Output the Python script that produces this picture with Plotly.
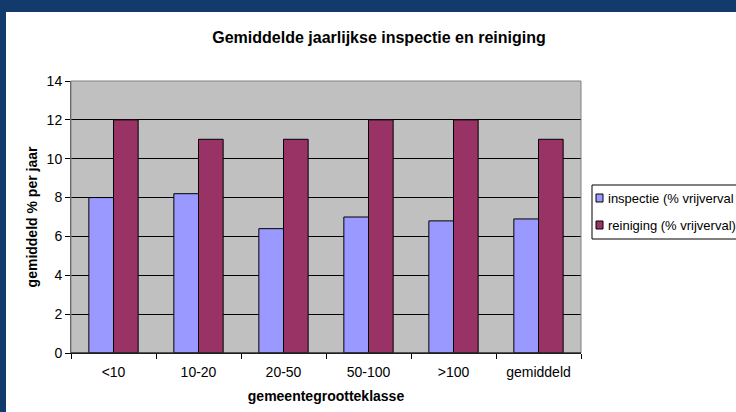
import plotly.graph_objects as go

categories = ['<10', '10-20', '20-50', '50-100', '>100', 'gemiddeld']
inspectie = [8.0, 8.2, 6.4, 7.0, 6.8, 6.9]
reiniging = [12, 11, 11, 12, 12, 11]
series_names = ['inspectie (% vrijverval', 'reiniging (% vrijverval)']
series_colors = ['#9999FF', '#993366']

font = "Arial, Liberation Sans, sans-serif"
border_blue = '#123A6C'

fig = go.Figure()
for name, vals, col in zip(series_names, [inspectie, reiniging], series_colors):
    fig.add_trace(go.Bar(x=categories, y=vals, name=name, showlegend=False,
                         marker=dict(color=col, line=dict(color='#000000', width=1))))

# plot area in pixels: x 71..581, y 81..353
def px(x):
    return (x - 71) / 510

def py(y):
    return (353 - y) / 272

shapes = [
    # dark blue frame (top and left)
    dict(type='rect', xref='paper', yref='paper', x0=px(-5), x1=px(760),
         y0=py(12), y1=py(-5), fillcolor=border_blue, line=dict(width=0),
         layer='below'),
    dict(type='rect', xref='paper', yref='paper', x0=px(-5), x1=px(6),
         y0=py(420), y1=py(-5), fillcolor=border_blue, line=dict(width=0),
         layer='below'),
    dict(type='rect', xref='paper', yref='paper', x0=0, x1=1, y0=0, y1=1,
         line=dict(color='#808080', width=1), layer='above'),
    dict(type='line', xref='paper', yref='paper', x0=0, x1=1, y0=0, y1=0,
         line=dict(color='#000000', width=1), layer='above'),
    # legend box
    dict(type='rect', xref='paper', yref='paper', x0=px(592), x1=px(760),
         y0=py(239), y1=py(185), fillcolor='#FFFFFF',
         line=dict(color='#000000', width=1), layer='above'),
]
annotations = []
for i, (name, col) in enumerate(zip(series_names, series_colors)):
    yc = 198 + i * 27
    shapes.append(dict(type='rect', xref='paper', yref='paper',
                       x0=px(596), x1=px(603), y0=py(yc + 4), y1=py(yc - 4),
                       fillcolor=col, line=dict(color='#000000', width=1),
                       layer='above'))
    annotations.append(dict(text=name, xref='paper', yref='paper',
                            x=px(606), y=py(yc), xanchor='left', yanchor='middle',
                            showarrow=False, font=dict(size=13, family=font)))

fig.update_layout(
    width=736, height=412,
    margin=dict(l=71, r=155, t=81, b=59, autoexpand=False),
    paper_bgcolor='#FFFFFF',
    plot_bgcolor='#C0C0C0',
    font=dict(family=font, size=14, color='#000000'),
    barmode='group', bargap=0.42, bargroupgap=0,
    title=dict(text='<b>Gemiddelde jaarlijkse inspectie en reiniging</b>',
               x=379 / 736, xanchor='center', y=1 - 37 / 412, yanchor='middle',
               font=dict(size=16, family=font, color='#000000')),
    xaxis=dict(title=dict(text='<b>gemeentegrootteklasse</b>', standoff=12,
                          font=dict(size=14)),
               showline=True, linecolor='#000000', linewidth=1,
               ticks='outside', tickson='boundaries', ticklen=5, tickcolor='#000000',
               ticklabelstandoff=6, showgrid=False),
    yaxis=dict(title=dict(text='<b>gemiddeld % per jaar</b>', standoff=5,
                          font=dict(size=14)),
               range=[0, 14], dtick=2,
               showline=True, linecolor='#505050', linewidth=1,
               ticks='outside', ticklen=5, tickcolor='#000000',
               showgrid=True, gridcolor='#000000', gridwidth=1,
               zeroline=False),
    shapes=shapes,
    annotations=annotations,
)

fig.write_html("out.html", config={'displayModeBar': False},
               post_script="document.body.style.margin='0';")
